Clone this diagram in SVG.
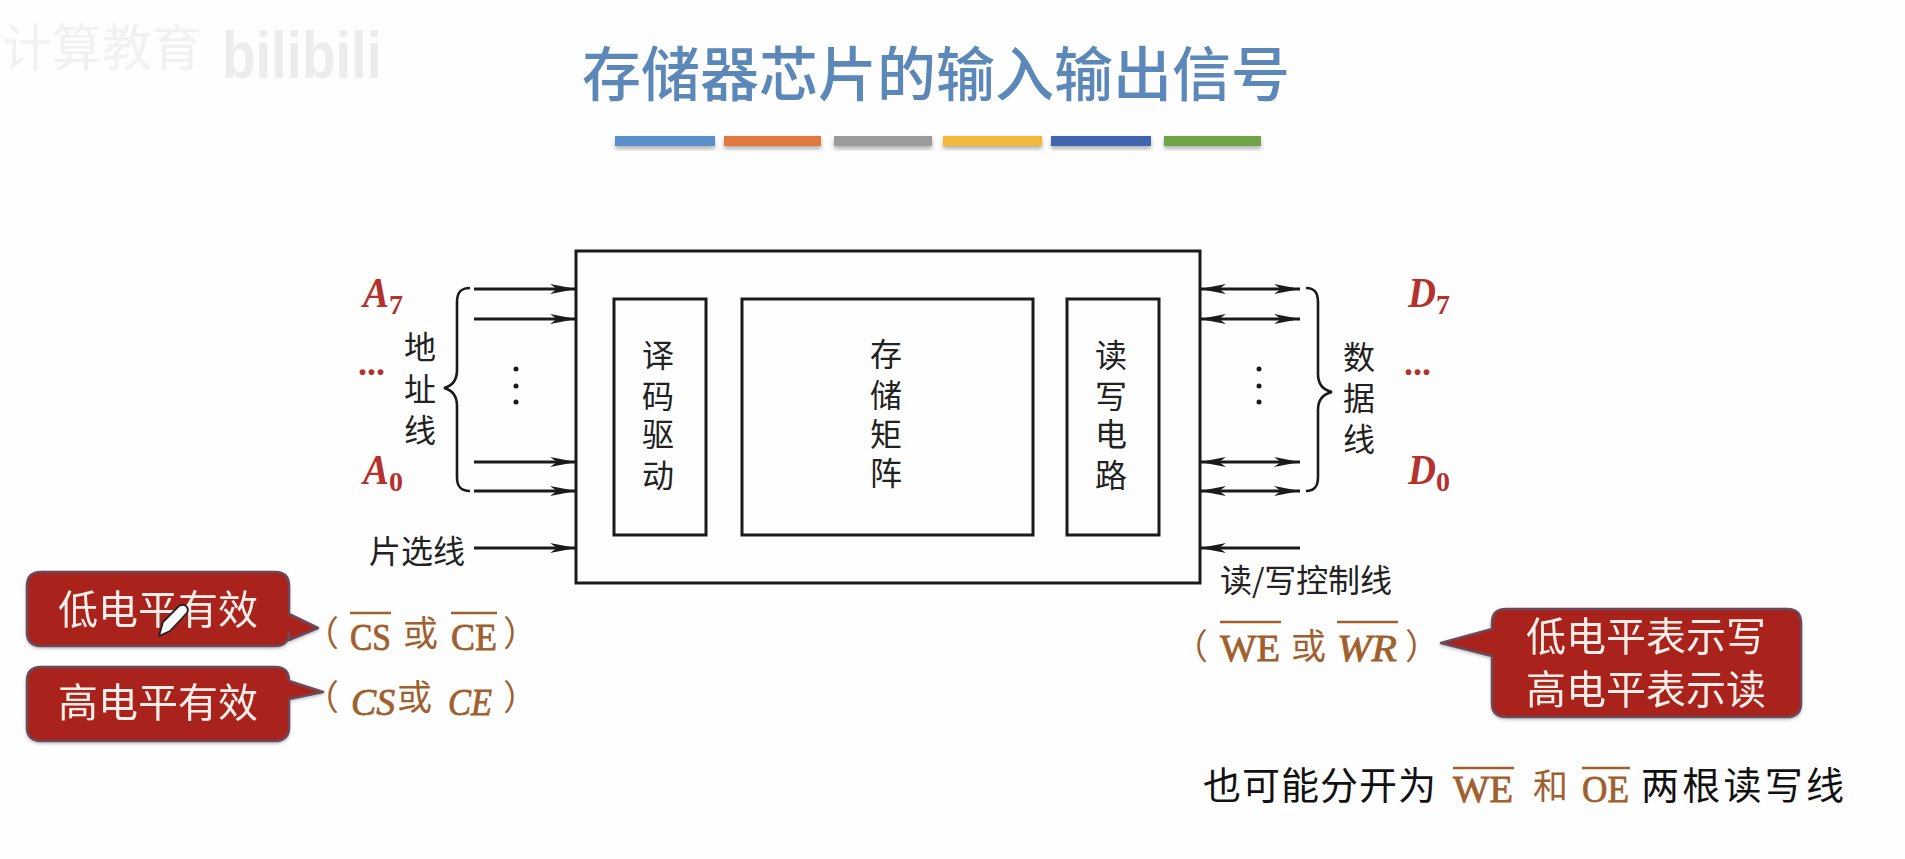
<svg xmlns="http://www.w3.org/2000/svg" width="1905" height="859" viewBox="0 0 1905 859">
<style>
text{font-family:"Noto Sans CJK SC","Noto Sans",sans-serif}
.box{fill:none;stroke:#1a1a1a;stroke-width:3}
.cj{font-size:32px;fill:#222;text-anchor:middle}
.lbl{font-size:32px;fill:#222}
.red{font-family:"Liberation Serif",serif;font-style:italic;font-weight:700;font-size:42px;fill:#b5312b}
.sub{font-family:"Liberation Serif",serif;font-weight:700;font-size:28px;fill:#b5312b}
.dots{font-family:"Liberation Serif",serif;font-weight:700;font-size:36px;fill:#b5312b}
.call{fill:#a9231b;stroke:#6b4a5a;stroke-width:2.5;stroke-linejoin:round}
.ct{font-size:40px;fill:#fbeee8;text-anchor:middle}
.br{font-family:"Liberation Serif",serif;font-size:38px;fill:#a0602e;stroke:#a0602e;stroke-width:.8}
.bri{font-family:"Liberation Serif",serif;font-size:38px;font-style:italic;fill:#a0602e;stroke:#a0602e;stroke-width:.8}
.brc{font-size:35px;fill:#a0602e}
.ol{stroke:#a0602e;stroke-width:2.5;fill:none}
.bk{font-size:38px;fill:#111}
.a{stroke:#1a1a1a;stroke-width:3;fill:none}
.in{marker-end:url(#ah)}
.bi{marker-end:url(#ah);marker-start:url(#ah)}
.brace{stroke:#1a1a1a;stroke-width:2.6;fill:none}
</style>
<defs>
<marker id="ah" markerUnits="userSpaceOnUse" markerWidth="28" markerHeight="12" refX="26" refY="6" orient="auto-start-reverse"><path d="M0 1 L26 6 L0 11 L7 6z" fill="#1a1a1a"/></marker>
<filter id="sh" x="-5%" y="-30%" width="110%" height="180%"><feDropShadow dx="0" dy="3" stdDeviation="2" flood-color="#000" flood-opacity=".3"/></filter>
<filter id="cs" x="-5%" y="-5%" width="110%" height="115%"><feDropShadow dx="0" dy="1.500" stdDeviation="1.500" flood-color="#000" flood-opacity=".25"/></filter>
</defs>
<rect width="1905" height="859" fill="#fefefe"/>
<g id="watermark">
<text x="2" y="66" font-size="50" fill="#f1f1f1">计算教育</text>
<text x="222" y="78" font-size="66" font-weight="700" fill="#ececec" style="font-family:'Liberation Sans',sans-serif" textLength="160" lengthAdjust="spacingAndGlyphs">bilibili</text>
</g>
<g id="title">
<text x="936" y="96" font-size="59" fill="#5b88b9" text-anchor="middle" font-weight="500">存储器芯片的输入输出信号</text>
<g filter="url(#sh)">
<rect x="615" y="136" width="100" height="10" fill="#5b8fc9"/>
<rect x="724" y="136" width="97" height="10" fill="#e0793c"/>
<rect x="834" y="136" width="98" height="10" fill="#9b9b9b"/>
<rect x="943" y="136" width="99" height="10" fill="#f2b83a"/>
<rect x="1051" y="136" width="100" height="10" fill="#3f65b0"/>
<rect x="1164" y="136" width="97" height="10" fill="#6fa44a"/>
</g>
</g>
<g id="chip"><rect class="box" x="576" y="251" width="624" height="332"/></g>
<g id="decoder"><rect class="box" x="614" y="299" width="92" height="236"/>
<text class="cj" x="658" y="367">译</text><text class="cj" x="658" y="408">码</text><text class="cj" x="658" y="446">驱</text><text class="cj" x="658" y="487">动</text></g>
<g id="matrix"><rect class="box" x="742" y="299" width="291" height="236"/>
<text class="cj" x="886" y="366">存</text><text class="cj" x="886" y="407">储</text><text class="cj" x="886" y="446">矩</text><text class="cj" x="886" y="485">阵</text></g>
<g id="rw"><rect class="box" x="1067" y="299" width="92" height="236"/>
<text class="cj" x="1111" y="367">读</text><text class="cj" x="1111" y="408">写</text><text class="cj" x="1111" y="446">电</text><text class="cj" x="1111" y="487">路</text></g>
<g id="connectors">
<path class="a in" d="M474 289H576"/><path class="a in" d="M474 319H576"/><path class="a in" d="M474 462H576"/><path class="a in" d="M474 491H576"/><path class="a in" d="M474 548H576"/>
<path class="a bi" d="M1200 289H1300"/><path class="a bi" d="M1200 319H1300"/><path class="a bi" d="M1200 462H1300"/><path class="a bi" d="M1200 491H1300"/>
<path class="a in" d="M1300 548H1200"/>
<path class="brace" d="M470 288C460 288 457 293 457 302V370C457 380 452 386 444 388C452 390 457 396 457 406V477C457 486 460 491 470 491"/>
<path class="brace" d="M1306 288C1315 288 1318 293 1318 302V374C1318 384 1323 390 1332 392C1323 394 1318 400 1318 410V477C1318 486 1315 491 1306 491"/>
<g fill="#1a1a1a"><circle cx="516" cy="369" r="2.500"/><circle cx="516" cy="386" r="2.500"/><circle cx="516" cy="402" r="2.500"/><circle cx="1259" cy="369" r="2.500"/><circle cx="1259" cy="386" r="2.500"/><circle cx="1259" cy="402" r="2.500"/></g>
</g>
<g id="addr-label">
<text class="cj" x="420" y="359">地</text><text class="cj" x="420" y="401">址</text><text class="cj" x="420" y="442">线</text>
<text class="lbl" x="369" y="563">片选线</text>
<text class="red" x="363" y="307" textLength="26" lengthAdjust="spacingAndGlyphs">A</text><text class="sub" x="389" y="314">7</text>
<text class="dots" x="358" y="375">...</text>
<text class="red" x="363" y="484" textLength="26" lengthAdjust="spacingAndGlyphs">A</text><text class="sub" x="389" y="491">0</text>
</g>
<g id="data-label">
<text class="cj" x="1359" y="369">数</text><text class="cj" x="1359" y="410">据</text><text class="cj" x="1359" y="451">线</text>
<text class="lbl" x="1220" y="592" textLength="172">读/写控制线</text>
<text class="red" x="1408" y="307" textLength="28" lengthAdjust="spacingAndGlyphs">D</text><text class="sub" x="1436" y="314">7</text>
<text class="dots" x="1404" y="375">...</text>
<text class="red" x="1408" y="484" textLength="28" lengthAdjust="spacingAndGlyphs">D</text><text class="sub" x="1436" y="491">0</text>
</g>
<g id="callout-low" filter="url(#cs)">
<path class="call" d="M41 572H275Q289 572 289 586V614L318 628L289 640V632Q289 646 275 646H41Q27 646 27 632V586Q27 572 41 572Z"/>
<text class="ct" x="158" y="624">低电平有效</text>
<path d="M159 636L163 622L179 606Q184 603 187 607Q189 611 186 614L170 631Z" fill="#fff" stroke="#222" stroke-width="1.800" stroke-linejoin="round"/>
</g>
<g id="callout-high" filter="url(#cs)">
<path class="call" d="M41 667H275Q289 667 289 681V681L323 692L289 699V727Q289 741 275 741H41Q27 741 27 727V681Q27 667 41 667Z"/>
<text class="ct" x="158" y="717">高电平有效</text>
</g>
<g id="callout-rw" filter="url(#cs)">
<path class="call" d="M1506 609H1787Q1801 609 1801 623V703Q1801 717 1787 717H1506Q1492 717 1492 703V656L1441 643L1492 629V623Q1492 609 1506 609Z"/>
<text class="ct" x="1646" y="651">低电平表示写</text>
<text class="ct" x="1646" y="704">高电平表示读</text>
</g>
<g id="cs-low">
<text class="brc" x="304" y="646">（</text>
<text class="br" x="350" y="650" textLength="41" lengthAdjust="spacingAndGlyphs">CS</text><path class="ol" d="M350 613H391"/>
<text class="brc" x="403" y="646">或</text>
<text class="br" x="451" y="650" textLength="46" lengthAdjust="spacingAndGlyphs">CE</text><path class="ol" d="M451 613H497"/>
<text class="brc" x="503" y="646">）</text>
</g>
<g id="cs-high">
<text class="brc" x="304" y="710">（</text>
<text class="bri" x="351" y="715" textLength="44" lengthAdjust="spacingAndGlyphs">CS</text>
<text class="brc" x="397" y="710">或</text>
<text class="bri" x="448" y="715" textLength="44" lengthAdjust="spacingAndGlyphs">CE</text>
<text class="brc" x="503" y="710">）</text>
</g>
<g id="we-wr">
<text class="brc" x="1173" y="659">（</text>
<text class="br" x="1220" y="661" textLength="60" lengthAdjust="spacingAndGlyphs">WE</text><path class="ol" d="M1220 622H1281"/>
<text class="brc" x="1291" y="659">或</text>
<text class="bri" x="1337" y="661" textLength="60" lengthAdjust="spacingAndGlyphs">WR</text><path class="ol" d="M1337 622H1398"/>
<text class="brc" x="1405" y="659">）</text>
</g>
<g id="note">
<text class="bk" x="1203" y="799" textLength="233">也可能分开为</text>
<text class="br" x="1453" y="802" textLength="60" lengthAdjust="spacingAndGlyphs">WE</text><path class="ol" d="M1453 768H1514"/>
<text class="brc" x="1533" y="799">和</text>
<text class="br" x="1582" y="802" textLength="47" lengthAdjust="spacingAndGlyphs">OE</text><path class="ol" d="M1582 768H1630"/>
<text class="bk" x="1641" y="799" textLength="203">两根读写线</text>
</g>
</svg>
